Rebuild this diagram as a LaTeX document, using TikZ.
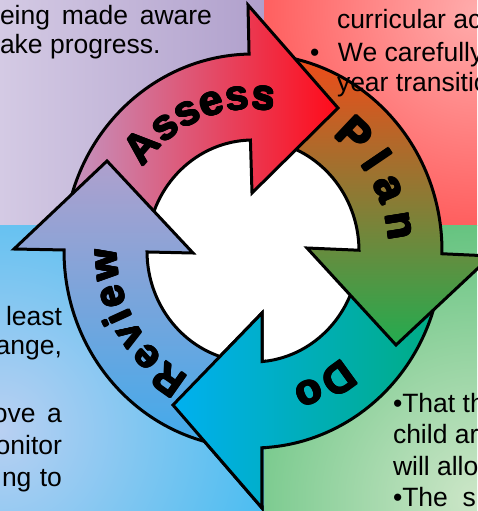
\documentclass[tikz,border=0pt]{standalone}
\usepackage{fontspec}
\setmainfont{Liberation Sans}
\newfontfamily\lblfont{Liberation Sans Bold}
\usetikzlibrary{calc,decorations.text}

\definecolor{tlA}{RGB}{212,202,228}
\definecolor{tlB}{RGB}{176,160,204}
\definecolor{trIn}{RGB}{255,172,172}
\definecolor{trOut}{RGB}{255,0,0}
\definecolor{brIn}{RGB}{205,230,200}
\definecolor{brOut}{RGB}{25,170,75}
\definecolor{blIn}{RGB}{185,208,242}
\definecolor{blOut}{RGB}{0,176,240}
\definecolor{asL}{RGB}{195,150,195}
\definecolor{asR}{RGB}{255,10,25}
\definecolor{plT}{RGB}{240,75,25}
\definecolor{plM}{RGB}{178,128,55}
\definecolor{plB}{RGB}{35,172,80}
\definecolor{doL}{RGB}{0,176,240}
\definecolor{doR}{RGB}{0,172,130}
\definecolor{rvT}{RGB}{175,160,205}
\definecolor{rvB}{RGB}{65,170,235}

% heavy label along an elliptical arc: {text}{size}{start}{end}
\newcommand\arclabel[4]{%
  \foreach \dx/\dy in {0/0,0.9/0,-0.9/0,0/0.9,0/-0.9,0.65/0.65,-0.65/0.65,0.65/-0.65,-0.65/-0.65}{%
    \path[decorate,
      decoration={text along path, text align={fit to path},
        text={|\lblfont\fontsize{#2}{#2}\selectfont|#1}}]
      ($(C)+(\dx,\dy)+(#3:136 and 142)$) arc[start angle=#3, end angle=#4, x radius=136, y radius=142];
  }%
}

\begin{document}
\begin{tikzpicture}[x=1pt,y=1pt,
  cyc/.style={draw=black, line width=3pt, line join=miter},
  txt/.style={inner sep=0pt, outer sep=0pt, font=\fontsize{26.5}{31}\selectfont, text=black}]
\useasboundingbox (0,0) rectangle (477,-511);

% backgrounds
\shade[left color=tlA, right color=tlB] (0,0) rectangle (264,-225);
\begin{scope}
  \clip (264,0) rectangle (477,-225);
  \shade[inner color=trIn, outer color=trOut] (477,-10) circle (480);
\end{scope}
\begin{scope}
  \clip (264,-225) rectangle (477,-511);
  \shade[inner color=brIn, outer color=brOut] (477,-500) circle (480);
\end{scope}
\begin{scope}
  \clip (0,-225) rectangle (264,-511);
  \shade[inner color=blIn, outer color=blOut] (0,-430) circle (460);
\end{scope}

\coordinate (C) at (253,-251);
\fill[white] (C) ellipse [x radius=108, y radius=113];

% Do
\draw[cyc, left color=doL, right color=doR]
  ($(C)+(-8:189 and 197)$) arc[start angle=-8, end angle=-87.3, x radius=189, y radius=197]
  -- (262,-508) -- (173,-405) -- (262,-313)
  -- ($(C)+(-85.1:106 and 111)$) arc[start angle=-85.1, end angle=-8, x radius=106, y radius=111] -- cycle;
% Plan
\draw[cyc, top color=plT, middle color=plM, bottom color=plB]
  ($(C)+(82:189 and 197)$) arc[start angle=82, end angle=-0.8, x radius=189, y radius=197]
  -- (491,-256) -- (396,-345) -- (307,-248)
  -- ($(C)+(0.4:106 and 111)$) arc[start angle=0.4, end angle=82, x radius=106, y radius=111] -- cycle;
% Assess
\draw[cyc, left color=asL, right color=asR]
  ($(C)+(175:189 and 197)$) arc[start angle=175, end angle=91.2, x radius=189, y radius=197]
  -- (248,-5) -- (338,-108) -- (252,-193)
  -- ($(C)+(91.4:106 and 111)$) arc[start angle=91.4, end angle=175, x radius=106, y radius=111] -- cycle;
% Review
\draw[cyc, top color=rvT, bottom color=rvB]
  ($(C)+(260:189 and 197)$) arc[start angle=260, end angle=179.7, x radius=189, y radius=197]
  -- (14,-249) -- (107,-161) -- (193,-253)
  -- ($(C)+(180.5:106 and 111)$) arc[start angle=180.5, end angle=260, x radius=106, y radius=111] -- cycle;
% Do head again, on top of the Review tail
\begin{scope}
  \clip (0,-290) rectangle (266,-520);
  \draw[cyc, left color=doL, right color=doR]
    ($(C)+(-8:189 and 197)$) arc[start angle=-8, end angle=-87.3, x radius=189, y radius=197]
    -- (262,-508) -- (173,-405) -- (262,-313)
    -- ($(C)+(-85.1:106 and 111)$) arc[start angle=-85.1, end angle=-8, x radius=106, y radius=111] -- cycle;
\end{scope}

% labels
\arclabel{Assess}{42}{144}{81}
\arclabel{Plan}{44}{54}{4}
\arclabel{Do}{42}{-49}{-73}
\arclabel{Review}{40}{242}{179}

% quadrant texts
\node[txt, anchor=base west] (tl1) at (0,-25) {\makebox[212pt][s]{eing made aware}};
\node[txt, anchor=base west] (tl2) at (0,-53) {ake progress.};
\node[txt, anchor=base west] (tr1) at (337,-29) {curricular ac};
\node[txt, anchor=base west] (tr2) at (310,-62) {\makebox[28pt][l]{•}We carefully};
\node[txt, anchor=base west] (tr3) at (337,-92) {year transitio};
\node[txt, anchor=base east] (bl1) at (62,-325) {least};
\node[txt, anchor=base east] (bl2) at (62,-354) {ange,};
\node[txt, anchor=base east] (bl3) at (62,-422) {\makebox[69pt][s]{ove a}};
\node[txt, anchor=base east] (bl4) at (62,-454) {onitor};
\node[txt, anchor=base east] (bl5) at (62,-486) {\makebox[60pt][s]{ng to}};
\node[txt, anchor=base west] (br1) at (393,-412) {•That th};
\node[txt, anchor=base west] (br2) at (393,-443) {child ar};
\node[txt, anchor=base west] (br3) at (393,-475) {will allo};
\node[txt, anchor=base west] (br4) at (393,-506) {\makebox[83pt][s]{•The s}};
\end{tikzpicture}
\end{document}
